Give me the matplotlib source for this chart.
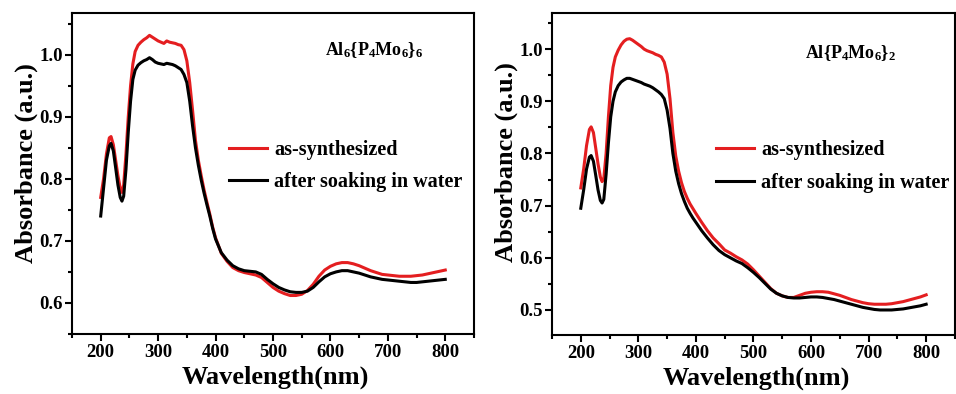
import matplotlib
matplotlib.use("Agg")
import matplotlib.pyplot as plt
from matplotlib.ticker import MultipleLocator

plt.rcParams['font.family'] = ['Liberation Serif', 'DejaVu Serif']
plt.rcParams['font.weight'] = 'bold'
plt.rcParams['mathtext.fontset'] = 'custom'
plt.rcParams['mathtext.rm'] = 'Liberation Serif:bold'
plt.rcParams['mathtext.bf'] = 'Liberation Serif:bold'
plt.rcParams['mathtext.it'] = 'Liberation Serif:bold'
plt.rcParams['mathtext.default'] = 'bf'

wavelength = [200, 205, 210, 215, 218, 222, 226, 230, 234, 237, 240, 244, 248, 252, 256, 260,
              265, 270, 275, 280, 285, 290, 295, 300, 305, 310, 315, 320, 325, 330, 335, 340,
              345, 350, 355, 360, 365, 370, 375, 380, 385, 390, 395, 400, 410, 420, 430, 440,
              450, 460, 470, 480, 490, 500, 510, 520, 530, 540, 550, 560, 570, 580, 590, 600,
              610, 620, 630, 640, 650, 660, 670, 680, 690, 700, 710, 720, 730, 740, 750, 760,
              770, 780, 790, 800]

left_as_synth = [0.770, 0.800, 0.840, 0.866, 0.868, 0.855, 0.830, 0.805, 0.785, 0.778, 0.790, 0.840,
                 0.900, 0.950, 0.985, 1.005, 1.015, 1.020, 1.024, 1.027, 1.031, 1.028, 1.025, 1.022,
                 1.020, 1.018, 1.022, 1.020, 1.019, 1.018, 1.016, 1.015, 1.008, 0.990, 0.955, 0.910,
                 0.862, 0.830, 0.805, 0.782, 0.762, 0.743, 0.722, 0.705, 0.680, 0.667, 0.657, 0.652,
                 0.649, 0.647, 0.645, 0.641, 0.633, 0.625, 0.619, 0.615, 0.612, 0.612, 0.614, 0.620,
                 0.630, 0.643, 0.653, 0.659, 0.663, 0.665, 0.665, 0.663, 0.660, 0.656, 0.652, 0.649,
                 0.646, 0.645, 0.644, 0.643, 0.643, 0.643, 0.644, 0.645, 0.647, 0.649, 0.651, 0.653]

left_soaked = [0.740, 0.785, 0.830, 0.853, 0.857, 0.845, 0.818, 0.790, 0.770, 0.764, 0.772, 0.815,
               0.875, 0.925, 0.960, 0.975, 0.983, 0.987, 0.990, 0.992, 0.995, 0.992, 0.988, 0.986,
               0.985, 0.984, 0.986, 0.985, 0.984, 0.982, 0.979, 0.976, 0.968, 0.955, 0.925, 0.885,
               0.850, 0.822, 0.798, 0.777, 0.758, 0.740, 0.720, 0.703, 0.681, 0.669, 0.660, 0.655,
               0.652, 0.651, 0.650, 0.646, 0.638, 0.631, 0.625, 0.621, 0.618, 0.617, 0.617, 0.619,
               0.625, 0.634, 0.642, 0.647, 0.650, 0.652, 0.652, 0.650, 0.648, 0.645, 0.642, 0.640,
               0.638, 0.637, 0.636, 0.635, 0.634, 0.633, 0.633, 0.634, 0.635, 0.636, 0.637, 0.638]

right_as_synth = [0.734, 0.770, 0.815, 0.846, 0.851, 0.840, 0.810, 0.780, 0.755, 0.746, 0.752, 0.800,
                  0.870, 0.930, 0.965, 0.985, 0.998, 1.008, 1.015, 1.019, 1.020, 1.017, 1.013, 1.009,
                  1.005, 1.000, 0.997, 0.995, 0.993, 0.990, 0.988, 0.985, 0.975, 0.952, 0.905, 0.840,
                  0.795, 0.766, 0.744, 0.727, 0.714, 0.703, 0.694, 0.685, 0.668, 0.652, 0.638, 0.627,
                  0.615, 0.609, 0.602, 0.596, 0.588, 0.577, 0.565, 0.553, 0.541, 0.532, 0.527, 0.524,
                  0.524, 0.528, 0.532, 0.534, 0.535, 0.535, 0.534, 0.531, 0.528, 0.524, 0.520, 0.517,
                  0.514, 0.512, 0.511, 0.511, 0.511, 0.512, 0.514, 0.516, 0.519, 0.522, 0.525, 0.529]

right_soaked = [0.695, 0.730, 0.770, 0.793, 0.796, 0.785, 0.758, 0.730, 0.710, 0.705, 0.712, 0.760,
                0.820, 0.870, 0.900, 0.918, 0.930, 0.937, 0.941, 0.944, 0.944, 0.942, 0.940, 0.938,
                0.936, 0.933, 0.931, 0.929, 0.926, 0.922, 0.918, 0.913, 0.905, 0.883, 0.848, 0.800,
                0.766, 0.742, 0.723, 0.708, 0.695, 0.685, 0.676, 0.668, 0.652, 0.638, 0.625, 0.614,
                0.606, 0.600, 0.594, 0.589, 0.581, 0.572, 0.562, 0.551, 0.540, 0.532, 0.527, 0.524,
                0.523, 0.523, 0.524, 0.525, 0.525, 0.524, 0.522, 0.520, 0.517, 0.514, 0.511, 0.508,
                0.505, 0.503, 0.501, 0.500, 0.500, 0.500, 0.501, 0.502, 0.504, 0.506, 0.508, 0.511]

series_labels = ['as-synthesized', 'after soaking in water']
titles = [r'Al$_6${P$_4$Mo$_6$}$_6$', r'Al{P$_4$Mo$_6$}$_2$']
x_ticks = [200, 300, 400, 500, 600, 700, 800]
left_yticks = [0.6, 0.7, 0.8, 0.9, 1.0]
right_yticks = [0.5, 0.6, 0.7, 0.8, 0.9, 1.0]

RED = '#e41e20'
BLACK = '#000000'

fig = plt.figure(figsize=(9.56, 3.94), dpi=100)
ax1 = fig.add_axes([0.0753, 0.1523, 0.4205, 0.8147])
ax2 = fig.add_axes([0.5774, 0.1497, 0.4215, 0.8170])

panels = [
    (ax1, left_as_synth, left_soaked, (0.55, 1.067), left_yticks, titles[0],
     (0.63, 0.885), (0.39, 0.605), (-0.085, 0.534), (0.505, -0.097)),
    (ax2, right_as_synth, right_soaked, (0.452, 1.069), right_yticks, titles[1],
     (0.628, 0.876), (0.407, 0.605), (-0.085, 0.536), (0.506, -0.097)),
]

for ax, red, blk, ylim, yt, title, tpos, lpos, ylc, xlc in panels:
    ax.plot(wavelength, red, color=RED, lw=2.2, label=series_labels[0])
    ax.plot(wavelength, blk, color=BLACK, lw=2.2, label=series_labels[1])
    ax.set_xlim(150, 850)
    ax.set_ylim(*ylim)
    ax.set_xticks(x_ticks)
    ax.set_yticks(yt)
    ax.set_yticklabels([f'{v:.1f}' for v in yt])
    ax.xaxis.set_minor_locator(MultipleLocator(50))
    ax.yaxis.set_minor_locator(MultipleLocator(0.05))
    ax.tick_params(axis='both', which='major', direction='out', length=5, width=1.5,
                   labelsize=13.5, top=False, right=False)
    ax.tick_params(axis='both', which='minor', direction='out', length=3, width=1.5,
                   top=False, right=False)
    ax.tick_params(axis='x', which='major', pad=2)
    ax.tick_params(axis='y', which='major', pad=1.5)
    for lab in ax.get_xticklabels() + ax.get_yticklabels():
        lab.set_fontweight('bold')
    for sp in ax.spines.values():
        sp.set_linewidth(1.5)
    ax.set_xlabel('Wavelength(nm)', fontsize=19, fontweight='bold')
    ax.set_ylabel('Absorbance (a.u.)', fontsize=19, fontweight='bold')
    ax.yaxis.set_label_coords(*ylc)
    ax.xaxis.set_label_coords(*xlc)
    ax.text(tpos[0], tpos[1], title, transform=ax.transAxes, fontsize=13,
            ha='left', va='center')
    ax.legend(loc='upper left', bbox_to_anchor=lpos, frameon=False, fontsize=14.5,
              handlelength=1.9, handletextpad=0.35, labelspacing=0.62, borderpad=0,
              borderaxespad=0)

fig.savefig('out.png', dpi=100)
